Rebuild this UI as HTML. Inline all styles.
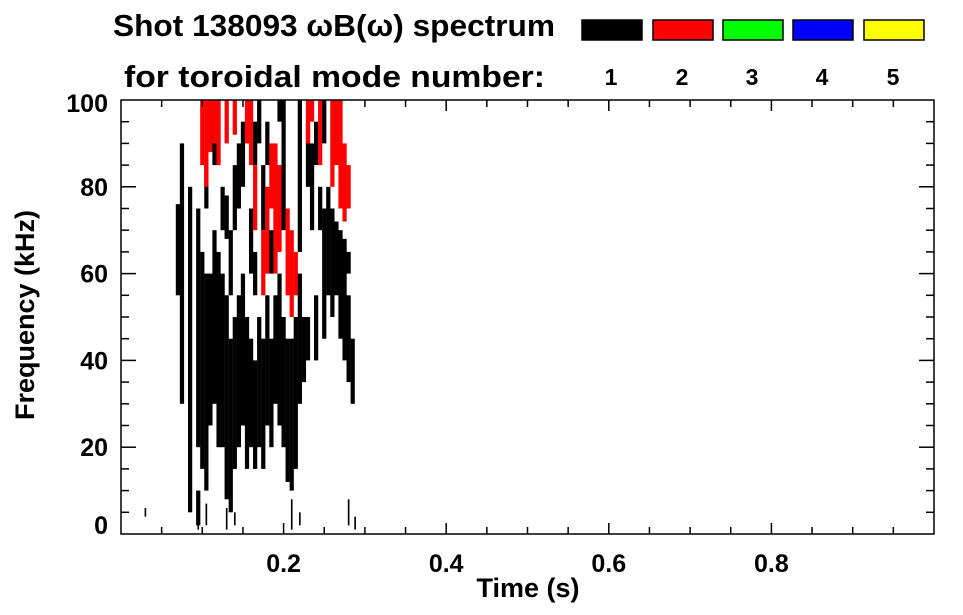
<!DOCTYPE html>
<html><head><meta charset="utf-8"><style>
html,body{margin:0;padding:0;background:#fff;}
svg{display:block;font-family:"Liberation Sans",Arial,sans-serif;font-weight:bold;}
</style></head><body>
<svg id="c" width="963" height="615" viewBox="0 0 963 615">
<text x="113" y="36" font-size="31" textLength="442" lengthAdjust="spacingAndGlyphs">Shot 138093 ωB(ω) spectrum</text>
<text x="124" y="87" font-size="31" textLength="421" lengthAdjust="spacingAndGlyphs">for toroidal mode number:</text>
<g id="legend"></g>
<g id="marks"></g>
<g id="axes"></g>
<text x="528" y="597" font-size="27" text-anchor="middle">Time (s)</text>
<text transform="translate(34,315) rotate(-90)" font-size="27" text-anchor="middle">Frequency (kHz)</text>
</svg>
<script>
const modeLabels = ['1','2','3','4','5'];
const modeColors = ['#000000','#ff0000','#00ff00','#0000ff','#ffff00'];
const xTicks = [0.2, 0.4, 0.6, 0.8];
const yTicks = [0, 20, 40, 60, 80, 100];
// times (s) of spectrogram columns
const times = [0.070,0.075,0.085,0.095,0.100,0.105,0.110,0.115,0.120,0.125,0.130,0.135,0.140,0.145,0.150,0.155,0.160,0.165,0.170,0.175,0.180,0.185,0.190,0.195,0.200,0.205,0.210,0.215,0.220,0.225,0.230,0.235,0.240,0.245,0.250,0.255,0.260,0.265,0.270,0.275,0.280,0.285];
// mode 1 (black) frequency ranges in kHz per column
const mode1 = [[[55,76]],[[30,90]],[[5,80]],[[20,75],[2,10]],[[15,65]],[[10,60],[75,85]],[[25,60]],[[30,70],[85,95]],[[20,65]],[[20,60],[70,80]],[[8,55],[68,78]],[[5,45],[55,70]],[[15,50],[70,85]],[[20,55],[75,90]],[[25,60],[80,95]],[[15,50]],[[20,45],[60,75]],[[15,40],[55,65],[85,95]],[[20,50],[90,100]],[[15,45],[70,85]],[[25,55],[85,95]],[[20,45],[60,70]],[[30,55]],[[25,60],[95,100]],[[20,50],[70,100]],[[12,45]],[[10,45]],[[15,50]],[[30,60],[65,100]],[[35,50]],[[40,50],[80,95]],[[70,90]],[[40,55],[85,95]],[[70,80]],[[45,75],[90,100]],[[55,80]],[[50,75]],[[55,72]],[[45,70]],[[40,68]],[[35,55],[60,65]],[[30,45]]];
// mode 2 (red) frequency ranges in kHz per column
const mode2 = [[],[],[],[],[[85,100]],[[80,100]],[[88,100]],[[90,100]],[[85,100]],[],[[90,100]],[],[[92,100]],[],[],[[90,100]],[[85,100]],[[70,85]],[],[[55,70]],[[60,80]],[[75,90]],[[60,90]],[[65,85]],[],[[55,75]],[[50,70]],[[55,65]],[],[],[[90,100]],[[95,100]],[],[[85,100]],[],[],[[80,100]],[[85,100]],[[75,100]],[[72,90]],[[75,85]],[]];
// low-frequency speckles: [time, fLow, fHigh]
const speckT = [0.030,0.095,0.105,0.130,0.140,0.210,0.220,0.280,0.288];
const speckF0 = [4,1,2,1,2,1,2,2,1];
const speckF1 = [6,8,7,6,5,8,5,8,4];

const X0=121,X1=934,Y0=534,Y1=100;
const xs=t=>X0+(t-0)/(1-0)*(X1-X0);
const ys=f=>Y0-(f-0)/(100-0)*(Y0-Y1);
const NS='http://www.w3.org/2000/svg';
function mk(tag,attrs,parent){const e=document.createElementNS(NS,tag);for(const k in attrs)e.setAttribute(k,attrs[k]);parent.appendChild(e);return e;}
const marks=document.getElementById('marks');
const W=0.0052;
times.forEach((t,i)=>{
  mode1[i].forEach(r=>{
    const el=mk('rect',{x:xs(t-W/2),y:ys(r[1]),width:xs(W)-xs(0),height:ys(r[0])-ys(r[1]),fill:modeColors[0]},marks);
    
    
  });
  mode2[i].forEach(r=>{
    const el=mk('rect',{x:xs(t-W/2),y:ys(r[1]),width:xs(W)-xs(0),height:ys(r[0])-ys(r[1]),fill:modeColors[1]},marks);
    
    
  });
});
speckT.forEach((t,i)=>{
  const el=mk('rect',{x:xs(t-0.001),y:ys(speckF1[i]),width:xs(0.002)-xs(0),height:ys(speckF0[i])-ys(speckF1[i]),fill:'#000'},marks);
  
  
});
const ax=document.getElementById('axes');
const frame=mk('rect',{x:X0,y:Y1,width:X1-X0,height:Y0-Y1,fill:'none',stroke:'#000','stroke-width':1.5},ax);


for(let k=1;k<20;k++){
  const t=k*0.05,major=(k%4===0),L=major?11:7,x=xs(t);
  const a=mk('line',{x1:x,x2:x,y1:Y0,y2:Y0-L,stroke:'#000','stroke-width':1.5},ax);
  
  
  const b=mk('line',{x1:x,x2:x,y1:Y1,y2:Y1+L,stroke:'#000','stroke-width':1.5},ax);
  
  
}
for(let k=1;k<20;k++){
  const f=k*5,major=(k%4===0),L=major?15:8,y=ys(f);
  const a=mk('line',{x1:X0,x2:X0+L,y1:y,y2:y,stroke:'#000','stroke-width':1.5},ax);
  
  
  const b=mk('line',{x1:X1,x2:X1-L,y1:y,y2:y,stroke:'#000','stroke-width':1.5},ax);
  
  
}
xTicks.forEach(t=>{
  const e=mk('text',{x:xs(t),y:572,'font-size':25,'text-anchor':'middle'},ax);
  e.textContent=t.toFixed(1);
  
  
});
yTicks.forEach(f=>{
  const y=f===0?534:(f===100?112:ys(f)+9);
  const e=mk('text',{x:108,y:y,'font-size':25,'text-anchor':'end'},ax);
  e.textContent=f;
  
  
});
const lg=document.getElementById('legend');
const lx=[582,653,723,793,864];
modeLabels.forEach((m,i)=>{
  const r=mk('rect',{x:lx[i],y:20,width:60,height:20,fill:modeColors[i],stroke:'#000','stroke-width':1.5},lg);
  
  
  const t=mk('text',{x:lx[i]+29,y:85,'font-size':23,'text-anchor':'middle'},lg);
  t.textContent=m;
  
  
});
</script>
</body></html>
